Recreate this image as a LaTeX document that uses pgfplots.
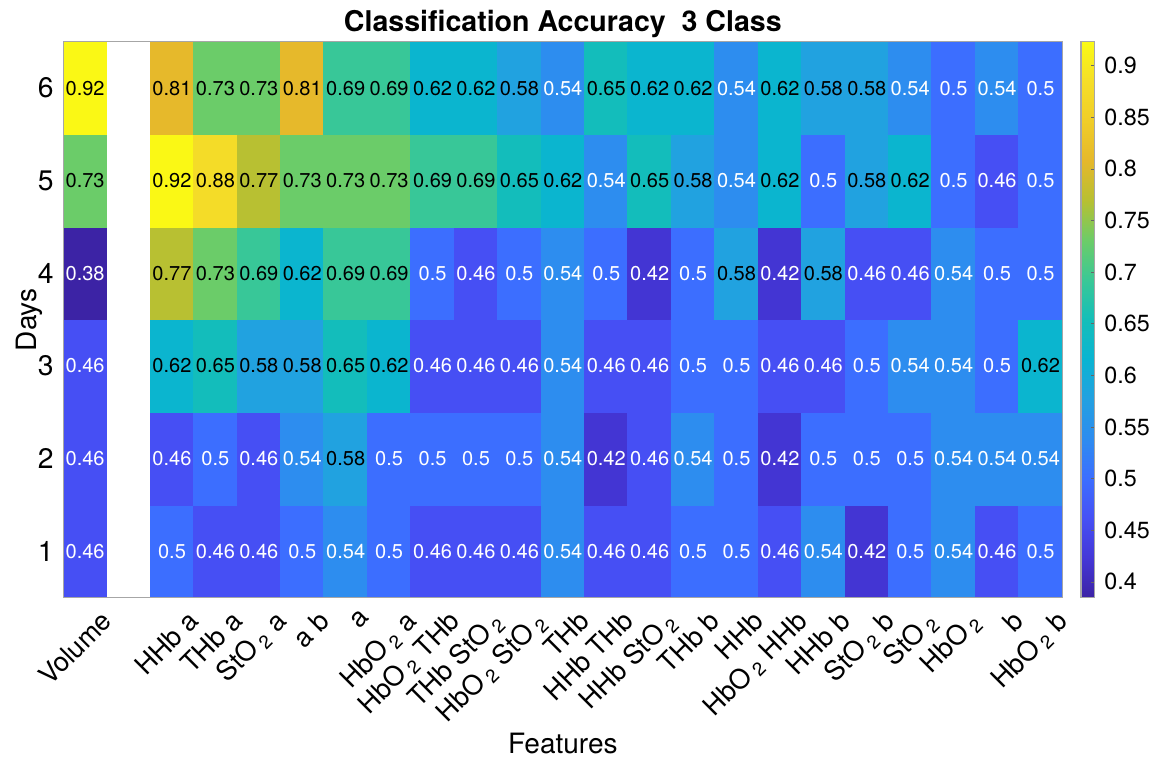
\documentclass[border=0pt]{standalone}
\usepackage{pgfplots}
\pgfplotsset{compat=1.18}
\usepackage{pgfplotstable}
\usepackage{fontspec}
\setmainfont{TeX Gyre Heros}

% colours read off the cells, one stop per 1/26 (0.38 ... 0.92)
\pgfplotsset{
  colormap={refmap}{
    rgb255(10pt)=(60,35,165)
    rgb255(11pt)=(68,55,215)
    rgb255(12pt)=(70,80,245)
    rgb255(13pt)=(60,110,255)
    rgb255(14pt)=(45,140,240)
    rgb255(15pt)=(35,160,225)
    rgb255(16pt)=(10,180,210)
    rgb255(17pt)=(20,190,185)
    rgb255(18pt)=(58,200,150)
    rgb255(19pt)=(108,204,104)
    rgb255(20pt)=(183,192,50)
    rgb255(21pt)=(229,184,43)
    rgb255(22pt)=(240,205,40)
    rgb255(23pt)=(245,222,40)
    rgb255(24pt)=(250,250,20)
  },
  /pgf/number format/assume math mode=true,
}

% one line per day (1 ... 6), columns Volume, gap, then the 21 feature sets
\pgfplotstableread[row sep=\\]{
v\\
0.46\\ nan\\ 0.5\\ 0.46\\ 0.46\\ 0.5\\ 0.54\\ 0.5\\ 0.46\\ 0.46\\ 0.46\\ 0.54\\ 0.46\\ 0.46\\ 0.5\\ 0.5\\ 0.46\\ 0.54\\ 0.42\\ 0.5\\ 0.54\\ 0.46\\ 0.5\\
0.46\\ nan\\ 0.46\\ 0.5\\ 0.46\\ 0.54\\ 0.58\\ 0.5\\ 0.5\\ 0.5\\ 0.5\\ 0.54\\ 0.42\\ 0.46\\ 0.54\\ 0.5\\ 0.42\\ 0.5\\ 0.5\\ 0.5\\ 0.54\\ 0.54\\ 0.54\\
0.46\\ nan\\ 0.62\\ 0.65\\ 0.58\\ 0.58\\ 0.65\\ 0.62\\ 0.46\\ 0.46\\ 0.46\\ 0.54\\ 0.46\\ 0.46\\ 0.5\\ 0.5\\ 0.46\\ 0.46\\ 0.5\\ 0.54\\ 0.54\\ 0.5\\ 0.62\\
0.38\\ nan\\ 0.77\\ 0.73\\ 0.69\\ 0.62\\ 0.69\\ 0.69\\ 0.5\\ 0.46\\ 0.5\\ 0.54\\ 0.5\\ 0.42\\ 0.5\\ 0.58\\ 0.42\\ 0.58\\ 0.46\\ 0.46\\ 0.54\\ 0.5\\ 0.5\\
0.73\\ nan\\ 0.92\\ 0.88\\ 0.77\\ 0.73\\ 0.73\\ 0.73\\ 0.69\\ 0.69\\ 0.65\\ 0.62\\ 0.54\\ 0.65\\ 0.58\\ 0.54\\ 0.62\\ 0.5\\ 0.58\\ 0.62\\ 0.5\\ 0.46\\ 0.5\\
0.92\\ nan\\ 0.81\\ 0.73\\ 0.73\\ 0.81\\ 0.69\\ 0.69\\ 0.62\\ 0.62\\ 0.58\\ 0.54\\ 0.65\\ 0.62\\ 0.62\\ 0.54\\ 0.62\\ 0.58\\ 0.58\\ 0.54\\ 0.5\\ 0.54\\ 0.5\\
}\acc

\begin{document}
\begin{tikzpicture}
\begin{axis}[
    name=ax,
    scale only axis,
    width=363.8pt, height=202.5pt,
    xmin=0.5, xmax=23.5, ymin=0.5, ymax=6.5,
    enlargelimits=false,
    axis on top,
    xtick={1,...,23}, ytick={1,...,6},
    xticklabels={Volume,{},HHb a,THb a,StO\,\textsubscript{2} a,a b,a,HbO\,\textsubscript{2} a,HbO\,\textsubscript{2} THb,THb StO\,\textsubscript{2},HbO\,\textsubscript{2} StO\,\textsubscript{2},THb,HHb THb,HHb StO\,\textsubscript{2},THb b,HHb,HbO\,\textsubscript{2} HHb,HHb b,StO\,\textsubscript{2} b,StO\,\textsubscript{2},HbO\,\textsubscript{2},b,HbO\,\textsubscript{2} b},
    x tick label style={rotate=45, anchor=north east, font=\fontsize{9.8}{12}\selectfont,
      inner sep=0.5pt, xshift=1.5pt, yshift=-6pt},
    y tick label style={font=\fontsize{10.3}{12}\selectfont},
    major tick length=0pt,
    axis line style={black!35},
    title={Classification Accuracy\ \ 3 Class},
    title style={at={(axis description cs:0.5,1)}, anchor=base, yshift=-2.4pt,
      font=\bfseries\fontsize{10.4}{12}\selectfont},
    xlabel={Features}, ylabel={Days},
    xlabel style={at={(axis description cs:0.5,0)}, anchor=base, yshift=-56.8pt},
    ylabel shift=-8.5pt,
    label style={font=\fontsize{10.2}{12}\selectfont},
    colormap name=refmap,
    point meta min=0.3846, point meta max=0.9231,
    colorbar,
    colorbar shift/.style={xshift=2.5pt},
    colorbar style={
      width=5pt,
      ytick={0.4,0.45,0.5,0.55,0.6,0.65,0.7,0.75,0.8,0.85,0.9},
      ytick pos=right, tick align=inside,
      yticklabel style={font=\fontsize{8.5}{10}\selectfont},
      major tick length=1.2pt,
      major tick style={black!60},
      axis line style={black!35},
    },
    unbounded coords=jump,
]
\addplot[matrix plot*, mesh/cols=23, point meta=explicit]
  table[x index=0, y index=0, x expr={mod(\coordindex,23)+1}, y expr={floor(\coordindex/23)+1}, meta=v] {\acc};
\addplot[only marks, mark=none, point meta=explicit symbolic,
  y filter/.expression={x==2 ? nan : y},
  nodes near coords={\ifdim\pgfplotspointmeta pt<0.56pt\color{white}\fi\pgfplotspointmeta},
  nodes near coords align=center,
  every node near coord/.append style={font=\fontsize{7.3}{8}\selectfont, inner sep=0pt}]
  table[x index=0, y index=0, x expr={mod(\coordindex,23)+1}, y expr={floor(\coordindex/23)+1}, meta=v] {\acc};
\end{axis}
\path ([shift={(-23.1pt,-58.6pt)}]ax.south west) rectangle ([shift={(32.2pt,15.2pt)}]ax.north east);
\end{tikzpicture}
\end{document}
